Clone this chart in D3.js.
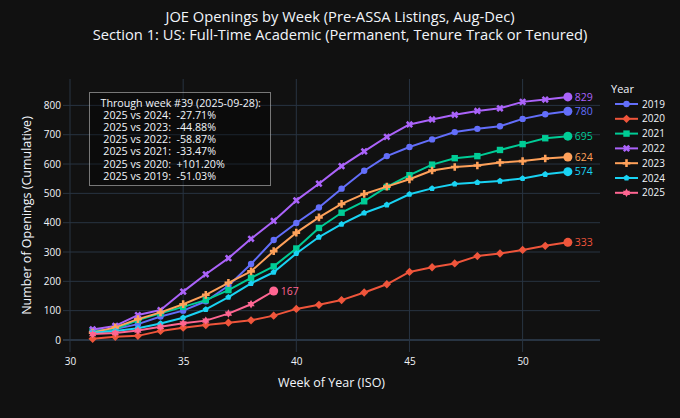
<!DOCTYPE html>
<html>
<head>
<meta charset="utf-8">
<script src="https://cdn.jsdelivr.net/npm/d3@7"></script>
<style>
  html, body { margin: 0; padding: 0; background: rgb(17,17,17); }
  svg { display: block; }
  text { font-family: "Open Sans", verdana, arial, sans-serif; fill: #f2f5fa; }
</style>
</head>
<body>
<svg id="chart" width="680" height="418"></svg>
<script>
// ---------------- DATA ----------------
const weeks = [31,32,33,34,35,36,37,38,39,40,41,42,43,44,45,46,47,48,49,50,51,52];
const years = ["2019","2020","2021","2022","2023","2024","2025"];
const values2019 = [31,37,54,80,100,132,185,259,341,399,452,516,577,627,658,684,709,720,729,754,770,780];
const values2020 = [4,11,14,31,42,51,59,67,83,106,120,136,162,190,232,248,261,286,295,307,321,333];
const values2021 = [31,37,68,91,113,136,170,212,251,312,382,434,473,522,562,598,620,627,648,668,688,695];
const values2022 = [36,48,85,102,165,224,279,345,406,476,533,593,643,693,735,752,768,781,790,812,820,829];
const values2023 = [25,43,71,94,122,154,195,234,303,366,418,464,498,523,548,578,590,595,605,610,619,624];
const values2024 = [25,31,40,56,76,104,146,193,231,295,351,395,433,461,497,517,532,537,542,551,565,574];
const values2025 = [20,24,32,45,57,66,90,122,167];
const xTicks = [30,35,40,45,50];
const yTicks = [0,100,200,300,400,500,600,700,800];
const titleLines = ["JOE Openings by Week (Pre-ASSA Listings, Aug-Dec)",
                    "Section 1: US: Full-Time Academic (Permanent, Tenure Track or Tenured)"];
const noteLines = ["Through week #39 (2025-09-28):",
                   " 2025 vs 2024:  -27.71%",
                   " 2025 vs 2023:  -44.88%",
                   " 2025 vs 2022:  -58.87%",
                   " 2025 vs 2021:  -33.47%",
                   " 2025 vs 2020:  +101.20%",
                   " 2025 vs 2019:  -51.03%"];

const seriesValues = [values2019, values2020, values2021, values2022, values2023, values2024, values2025];
const colors = ["#636efa","#EF553B","#00cc96","#ab63fa","#FFA15A","#19d3f3","#FF6692"];
const symbols = ["circle","diamond","square","x","cross","pentagon","hexagram"];

// ---------------- SYMBOLS (plotly-like) ----------------
function symbolPath(name, r) {
  const f = v => Math.round(v * 100) / 100;
  switch (name) {
    case "circle":
      return `M${f(r)},0A${f(r)},${f(r)} 0 1,1 0,${f(-r)}A${f(r)},${f(r)} 0 0,1 ${f(r)},0Z`;
    case "square": {
      const s = f(r);
      return `M${s},${s}H${-s}V${-s}H${s}Z`;
    }
    case "diamond": {
      const d = f(r * 1.3);
      return `M${d},0L0,${d}L${-d},0L0,${-d}Z`;
    }
    case "cross": {
      const c = f(r * 1.2), c2 = f(r * 0.4);
      return `M${c},${c2}H${c2}V${c}H${-c2}V${c2}H${-c}V${-c2}H${-c2}V${-c}H${c2}V${-c2}H${c}Z`;
    }
    case "x": {
      const rx = f(r * 0.8 / Math.SQRT2);
      const ne = `l${rx},${rx}`, se = `l${rx},${-rx}`, sw = `l${-rx},${-rx}`, nw = `l${-rx},${rx}`;
      return `M0,${rx}${ne}${se}${sw}${se}${sw}${nw}${sw}${nw}${ne}${nw}${ne}Z`;
    }
    case "pentagon": {
      const x1 = f(r*0.951), x2 = f(r*0.588), y0 = f(-r), y1 = f(-r*0.309), y2 = f(r*0.809);
      return `M${x1},${y1}L${x2},${y2}H${-x2}L${-x1},${y1}L0,${y0}Z`;
    }
    case "hexagram": {
      const y = f(r*0.66), x1 = f(r*0.38), x2 = f(r*0.76);
      return `M${-x2},0l${-x1},${-y}h${x2}l${x1},${-y}l${x1},${y}h${x2}l${-x1},${y}l${x1},${y}h${-x2}l${-x1},${y}l${-x1},${-y}h${-x2}Z`;
    }
  }
}

// ---------------- LAYOUT ----------------
const svg = d3.select("#chart");
const W = 680, H = 418;
const plot = {left: 63, right: 600, top: 79, bottom: 352};
const FONT = '"Open Sans", verdana, arial, sans-serif';

svg.append("rect").attr("width", W).attr("height", H).attr("fill", "rgb(17,17,17)");

const x = d3.scaleLinear().domain([29.69, 53.42]).range([plot.left, plot.right]);
const y = d3.scaleLinear().domain([-41, 890]).range([plot.bottom, plot.top]);

const grid = svg.append("g");
grid.selectAll("line.xg").data(xTicks).join("line")
  .attr("x1", d => x(d)).attr("x2", d => x(d))
  .attr("y1", plot.top).attr("y2", plot.bottom)
  .attr("stroke", "#283442").attr("stroke-width", 1);
grid.selectAll("line.yg").data(yTicks.filter(d => d !== 0)).join("line")
  .attr("x1", plot.left).attr("x2", plot.right)
  .attr("y1", d => y(d)).attr("y2", d => y(d))
  .attr("stroke", "#283442").attr("stroke-width", 1);
grid.append("line")
  .attr("x1", plot.left).attr("x2", plot.right)
  .attr("y1", y(0)).attr("y2", y(0))
  .attr("stroke", "#283442").attr("stroke-width", 2);

// Axes (tick labels via d3 axis, domain hidden)
const xAxis = svg.append("g").attr("transform", `translate(0,${plot.bottom})`)
  .call(d3.axisBottom(x).tickValues(xTicks).tickSize(0).tickPadding(6).tickFormat(d3.format("d")));
xAxis.select(".domain").remove();
xAxis.selectAll("text").style("font-size", "10px").attr("fill", "#f2f5fa").style("font-family", FONT);

const yAxis = svg.append("g").attr("transform", `translate(${plot.left},0)`)
  .call(d3.axisLeft(y).tickValues(yTicks).tickSize(0).tickPadding(2).tickFormat(d3.format("d")));
yAxis.select(".domain").remove();
yAxis.selectAll("text").style("font-size", "10px").attr("fill", "#f2f5fa").style("font-family", FONT);

// Axis titles
svg.append("text").attr("x", (plot.left + plot.right) / 2).attr("y", 387)
  .attr("text-anchor", "middle").style("font-size", "12.5px").text("Week of Year (ISO)");
svg.append("text").attr("transform", `translate(31,${(plot.top + plot.bottom) / 2}) rotate(-90)`)
  .attr("text-anchor", "middle").style("font-size", "12.5px").text("Number of Openings (Cumulative)");

// Title
svg.selectAll("text.title").data(titleLines).join("text")
  .attr("x", W / 2).attr("y", (d, i) => 22 + i * 18)
  .attr("text-anchor", "middle").style("font-size", "14.7px").text(d => d);

// ---------------- SERIES ----------------
const line = d3.line().x(d => x(d.w)).y(d => y(d.v));
const series = years.map((yr, i) => ({
  year: yr, color: colors[i], symbol: symbols[i],
  pts: seriesValues[i].map((v, j) => ({w: weeks[j], v}))
}));

const gSeries = svg.append("g");
series.forEach(s => {
  const g = gSeries.append("g");
  g.append("path").attr("d", line(s.pts)).attr("fill", "none")
    .attr("stroke", s.color).attr("stroke-width", 2).attr("stroke-linejoin", "round");
  g.selectAll("path.m").data(s.pts).join("path")
    .attr("transform", d => `translate(${x(d.w)},${y(d.v)})`)
    .attr("d", symbolPath(s.symbol, 3.2)).attr("fill", s.color);
  const last = s.pts[s.pts.length - 1];
  g.append("circle").attr("cx", x(last.w)).attr("cy", y(last.v)).attr("r", 4.5).attr("fill", s.color);
  g.append("text").attr("x", x(last.w) + 7).attr("y", y(last.v) + 3.8)
    .style("font-size", "10.5px").style("fill", s.color).text(last.v);
});

// ---------------- ANNOTATION ----------------
const note = svg.append("g");
note.append("rect").attr("x", 89.5).attr("y", 92.5).attr("width", 181).attr("height", 93)
  .attr("fill", "rgba(0,0,0,0.3)").attr("stroke", "rgba(190,190,190,0.6)").attr("stroke-width", 1);
note.selectAll("text").data(noteLines).join("text")
  .attr("x", 100.5).attr("y", (d, i) => 107 + i * 12.1)
  .attr("xml:space", "preserve").style("white-space", "pre")
  .style("font-size", "10.7px").text(d => d);

// ---------------- LEGEND ----------------
const legend = svg.append("g");
legend.append("text").attr("x", 611).attr("y", 93).style("font-size", "11px").text("Year");
series.forEach((s, i) => {
  const cy = 104 + i * 14.8;
  legend.append("line").attr("x1", 615).attr("x2", 638).attr("y1", cy).attr("y2", cy)
    .attr("stroke", s.color).attr("stroke-width", 2);
  legend.append("path").attr("transform", `translate(626.5,${cy})`)
    .attr("d", symbolPath(s.symbol, 3.2)).attr("fill", s.color);
  legend.append("text").attr("x", 642).attr("y", cy + 3.6).style("font-size", "10px").text(s.year);
});
</script>
</body>
</html>
